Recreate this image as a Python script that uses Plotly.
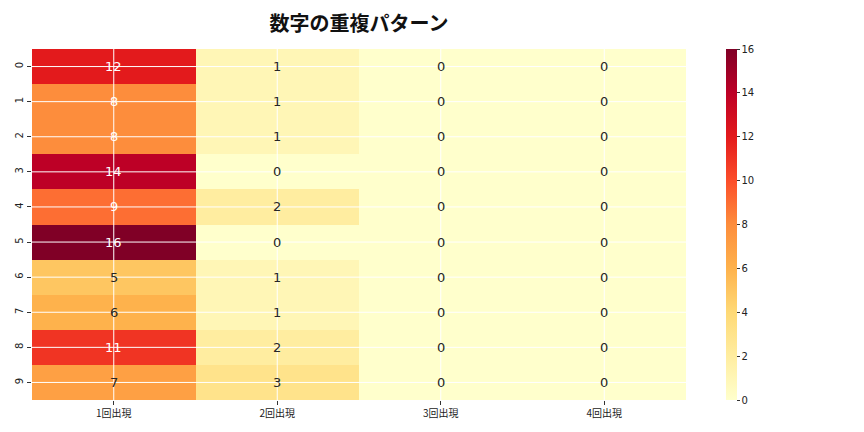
import plotly.graph_objects as go

columns = ["1回出現", "2回出現", "3回出現", "4回出現"]
rows = ["0", "1", "2", "3", "4", "5", "6", "7", "8", "9"]
once = [12, 8, 8, 14, 9, 16, 5, 6, 11, 7]
twice = [1, 1, 1, 0, 2, 0, 1, 1, 2, 3]
thrice = [0, 0, 0, 0, 0, 0, 0, 0, 0, 0]
four = [0, 0, 0, 0, 0, 0, 0, 0, 0, 0]
title = "数字の重複パターン"

z = [[a, b, c, d] for a, b, c, d in zip(once, twice, thrice, four)]

ylorrd = ["#ffffcc", "#ffeda0", "#fed976", "#feb24c", "#fd8d3c",
          "#fc4e2a", "#e31a1c", "#bd0026", "#800026"]
cs = [[i / (len(ylorrd) - 1), c] for i, c in enumerate(ylorrd)]
zmin, zmax = 0, 16

fontfam = "DejaVu Sans, Noto Sans CJK JP, sans-serif"

fig = go.Figure(go.Heatmap(
    z=z, x=columns, y=rows, colorscale=cs, zmin=zmin, zmax=zmax,
    colorbar=dict(
        x=1.061, xanchor="left", xpad=0, y=0.5, yanchor="middle", ypad=0,
        len=1, lenmode="fraction",
        thickness=11, outlinewidth=0, ticks="outside", ticklen=3, tickcolor="#333",
        tickvals=[0, 2, 4, 6, 8, 10, 12, 14, 16],
        tickfont=dict(size=10, color="#222", family=fontfam),
    ),
    hoverinfo="skip",
))

annotations = []
for r, row in zip(rows, z):
    for c, v in zip(columns, row):
        color = "white" if v >= 8 else "#262626"
        annotations.append(dict(x=c, y=r, text=str(v), showarrow=False,
                                font=dict(size=13, color=color, family=fontfam)))

shapes = []
for c in columns:
    shapes.append(dict(type="line", xref="x", yref="paper", x0=c, x1=c, y0=0, y1=1,
                       line=dict(color="white", width=1), layer="above"))
for r in rows:
    shapes.append(dict(type="line", xref="paper", yref="y", x0=0, x1=1, y0=r, y1=r,
                       line=dict(color="white", width=1), layer="above"))

fig.update_layout(
    width=864, height=432,
    margin=dict(l=24, r=186, t=41, b=40, autoexpand=False),
    paper_bgcolor="white", plot_bgcolor="white",
    title=dict(text=f"<b>{title}</b>", x=351 / 864, xanchor="center", y=1 - 16 / 432, yanchor="middle",
               font=dict(size=20, family="Noto Sans CJK JP, sans-serif", color="#111")),
    annotations=annotations,
    shapes=shapes,
    xaxis=dict(showgrid=False, ticks="outside", ticklen=4, tickcolor="#333", zeroline=False,
               automargin=False,
               tickfont=dict(size=10, family="Noto Sans CJK JP, sans-serif", color="#222")),
    yaxis=dict(showgrid=False, autorange="reversed", ticks="outside", ticklen=4, tickcolor="#333",
               tickangle=-90, zeroline=False, automargin=False,
               tickfont=dict(size=10, family=fontfam, color="#222")),
)

fig.write_html("out.html")
